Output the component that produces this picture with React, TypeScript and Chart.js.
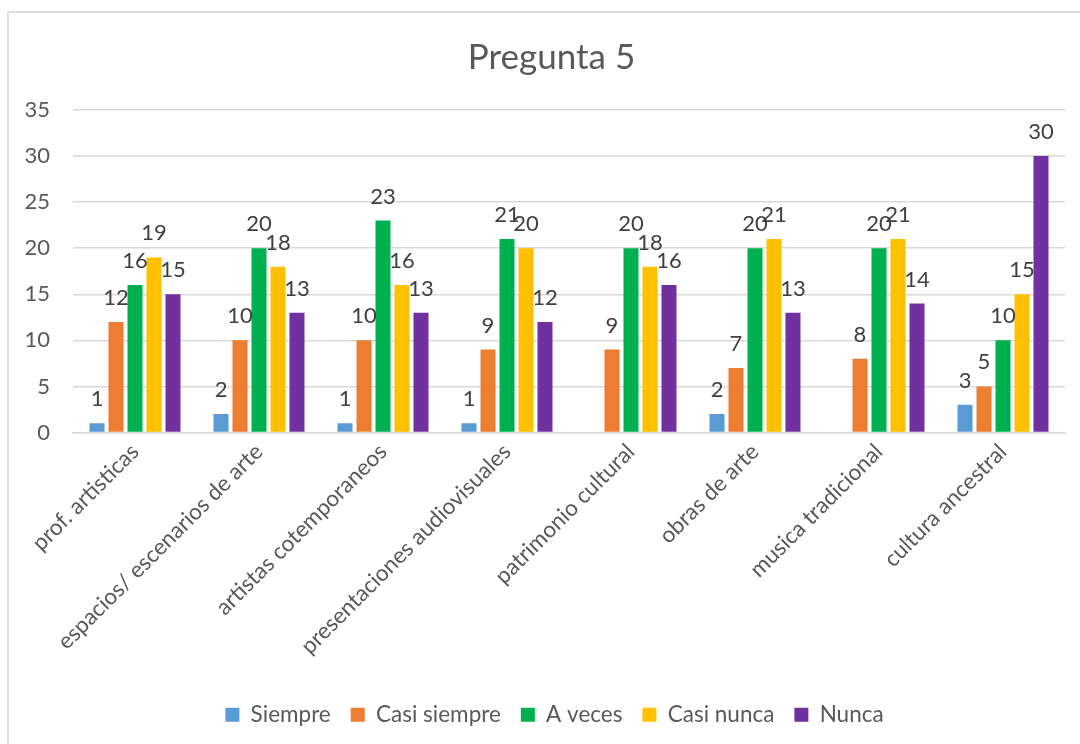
import React, { useEffect, useRef } from "react";
import { Chart, registerables } from "chart.js";

Chart.register(...registerables);

const categories = [
  "prof. artisticas",
  "espacios/ escenarios de arte",
  "artistas cotemporaneos",
  "presentaciones audiovisuales",
  "patrimonio cultural",
  "obras de arte",
  "musica tradicional",
  "cultura ancestral",
];

const siempre = [1, 2, 1, 1, null, 2, null, 3];
const casiSiempre = [12, 10, 10, 9, 9, 7, 8, 5];
const aVeces = [16, 20, 23, 21, 20, 20, 20, 10];
const casiNunca = [19, 18, 16, 20, 18, 21, 21, 15];
const nunca = [15, 13, 13, 12, 16, 13, 14, 30];

const seriesNames = ["Siempre", "Casi siempre", "A veces", "Casi nunca", "Nunca"];
const seriesColors = ["#5B9BD5", "#ED7D31", "#00B050", "#FFC000", "#7030A0"];

const yTicks = [0, 5, 10, 15, 20, 25, 30, 35];

const FONT = "Lato, 'Open Sans', sans-serif";

const dataLabelPlugin = {
  id: "dataLabels",
  afterDatasetsDraw(chart: any) {
    const ctx = chart.ctx;
    ctx.save();
    ctx.font = `22px ${FONT}`;
    ctx.fillStyle = "#404040";
    ctx.textAlign = "center";
    ctx.textBaseline = "alphabetic";
    chart.data.datasets.forEach((ds: any, i: number) => {
      const meta = chart.getDatasetMeta(i);
      meta.data.forEach((el: any, j: number) => {
        const v = ds.data[j];
        if (v === null || v === undefined) return;
        ctx.fillText(String(v), el.x, el.y - 17);
      });
    });
    ctx.restore();
  },
};

// Title and legend are centred on the (wider, cropped) chart frame in the reference
const shiftPlugin = {
  id: "shiftTitleLegend",
  afterLayout(chart: any) {
    const t = chart.titleBlock;
    if (t) {
      t.left += 19;
      t.right += 19;
    }
    const l = chart.legend;
    if (l) {
      l.left += 22;
      l.right += 22;
    }
  },
};

export default function App() {
  const ref = useRef<HTMLCanvasElement | null>(null);

  useEffect(() => {
    if (!ref.current) return;
    const all = [siempre, casiSiempre, aVeces, casiNunca, nunca];
    const chart = new Chart(ref.current, {
      type: "bar",
      data: {
        labels: categories,
        datasets: all.map((d, i) => ({
          label: seriesNames[i],
          data: d,
          backgroundColor: seriesColors[i],
          borderWidth: 0,
          categoryPercentage: 0.766,
          barPercentage: 0.79,
        })),
      },
      options: {
        responsive: false,
        animation: false,
        devicePixelRatio: 1,
        layout: { padding: { left: 0, right: 15, top: 0, bottom: 8 } },
        plugins: {
          title: {
            display: true,
            text: "Pregunta 5",
            color: "#595959",
            font: { family: FONT, size: 35, weight: "normal" },
            padding: { top: 37, bottom: 31 },
          },
          legend: {
            position: "bottom",
            labels: {
              color: "#595959",
              font: { family: FONT, size: 22.5 },
              boxWidth: 14,
              boxHeight: 14,
              padding: 20,
            },
          },
          tooltip: { enabled: false },
        },
        scales: {
          x: {
            grid: { display: false, drawTicks: false },
            border: { display: true, color: "#D9D9D9", width: 1.5 },
            ticks: {
              color: "#595959",
              font: { family: FONT, size: 22.5 },
              maxRotation: 45,
              minRotation: 45,
              autoSkip: false,
              padding: 6,
            },
            afterFit(scale: any) {
              scale.height = 251;
            },
          },
          y: {
            min: 0,
            max: 35,
            afterBuildTicks(scale: any) {
              scale.ticks = yTicks.map((v) => ({ value: v }));
            },
            grid: { color: "#D9D9D9", lineWidth: 1.5, drawTicks: false },
            border: { display: false },
            ticks: {
              color: "#595959",
              font: { family: FONT, size: 22 },
              padding: 23,
            },
            afterFit(scale: any) {
              scale.width = 73;
            },
          },
        },
      },
      plugins: [dataLabelPlugin, shiftPlugin],
    });
    return () => chart.destroy();
  }, []);

  return (
    <div
      style={{
        position: "fixed",
        left: 0,
        top: 0,
        width: 1080,
        height: 744,
        background: "#fff",
        overflow: "hidden",
      }}
    >
      <div
        style={{
          position: "absolute",
          left: 7,
          top: 11,
          width: 1200,
          height: 900,
          border: "2px solid #DEDEDE",
        }}
      />
      <canvas
        ref={ref}
        width={1080}
        height={744}
        style={{ position: "absolute", left: 0, top: 0, width: 1080, height: 744 }}
      />
    </div>
  );
}
